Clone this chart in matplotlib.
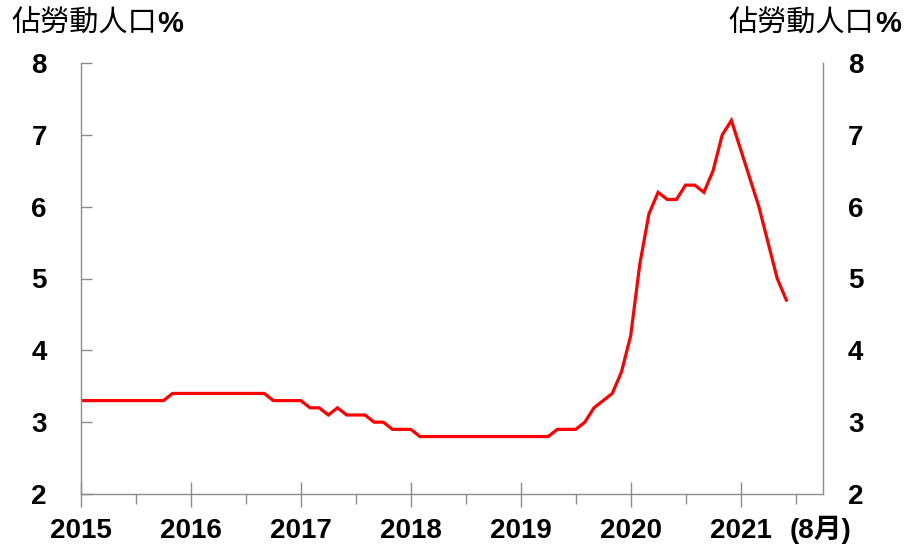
import matplotlib
matplotlib.use("Agg")
import matplotlib.pyplot as plt
from matplotlib.ticker import FixedLocator
from matplotlib.transforms import blended_transform_factory

# ---- data ----
year_labels = ["2015", "2016", "2017", "2018", "2019", "2020", "2021"]
end_label = "(8月)"
title_text = "佔勞動人口"
title_pct = "%"
y_ticks = [2, 3, 4, 5, 6, 7, 8]
# monthly unemployment rate, Jan 2015 onward (3-month moving average)
rate = [3.3, 3.3, 3.3, 3.3, 3.3, 3.3, 3.3, 3.3, 3.3, 3.3,
        3.4, 3.4, 3.4, 3.4, 3.4, 3.4, 3.4, 3.4, 3.4, 3.4, 3.4,
        3.3, 3.3, 3.3, 3.3,
        3.2, 3.2, 3.1, 3.2, 3.1, 3.1, 3.1,
        3.0, 3.0, 2.9, 2.9, 2.9,
        2.8, 2.8, 2.8, 2.8, 2.8, 2.8, 2.8, 2.8, 2.8, 2.8, 2.8, 2.8, 2.8, 2.8, 2.8,
        2.9, 2.9, 2.9, 3.0, 3.2, 3.3, 3.4, 3.7,
        4.2, 5.2, 5.9, 6.2, 6.1, 6.1, 6.3, 6.3, 6.2, 6.5, 7.0, 7.2,
        6.8, 6.4, 6.0, 5.5, 5.0, 4.7]
months = list(range(len(rate)))

W, H = 908, 549
fig = plt.figure(figsize=(W / 100, H / 100), dpi=100)
rect = [81 / W, 1 - 494 / H, (823 - 81) / W, (494 - 63) / H]
ax = fig.add_axes(rect)

ax.plot(months, rate, color="#ff0000", lw=2.3, solid_joinstyle="miter")

ax.set_xlim(0, 81)
ax.set_ylim(2, 8)

spine_col = "#8c8c8c"
for s in ["left", "right", "bottom"]:
    ax.spines[s].set_color(spine_col)
    ax.spines[s].set_linewidth(1.0)
ax.spines["top"].set_visible(False)

tick_font = dict(family="Liberation Sans", weight="bold", size=20)

ax.set_yticks(y_ticks)
ax.set_yticklabels([str(v) for v in y_ticks], **tick_font)
ax.tick_params(axis="y", which="both", direction="in", length=8, width=1,
               color=spine_col, left=True, right=True, labelleft=True,
               labelright=False, pad=24.5)

# right-hand labels on a twin axis with its own padding
ax2 = ax.twinx()
ax2.set_ylim(2, 8)
ax2.set_yticks(y_ticks)
ax2.set_yticklabels([str(v) for v in y_ticks], **tick_font)
ax2.tick_params(axis="y", direction="in", length=0, pad=18)
for s in ax2.spines.values():
    s.set_visible(False)

major_x = [12 * i for i in range(len(year_labels))]
ax.xaxis.set_major_locator(FixedLocator(major_x))
ax.xaxis.set_minor_locator(FixedLocator([m + 6 for m in major_x]))
ax.set_xticklabels(year_labels, **tick_font)
ax.tick_params(axis="x", which="major", direction="inout", length=18, width=1,
               color=spine_col, pad=8.5)
ax.tick_params(axis="x", which="minor", direction="out", length=7, width=1,
               color=spine_col)

tr = blended_transform_factory(ax.transData, ax.transAxes)
ax.text(80.7, -(538 - 494) / (494 - 63), end_label, transform=tr,
        ha="center", va="baseline",
        family=["Liberation Sans", "Noto Sans CJK TC"], weight="bold", size=20)

# titles
fig.canvas.draw()
renderer = fig.canvas.get_renderer()

def title_at(x_px, align_right=False):
    t1 = fig.text(0, 0, title_text, family="Noto Sans CJK TC", size=21,
                  va="baseline", ha="left")
    t2 = fig.text(0, 0, title_pct, family="Liberation Sans", weight="bold",
                  size=21, va="baseline", ha="left")
    w1 = t1.get_window_extent(renderer).width
    w2 = t2.get_window_extent(renderer).width
    total = w1 + w2 + 1
    x0 = x_px - total if align_right else x_px
    base = 1 - 32 / H
    t1.set_position((x0 / W, base))
    t2.set_position(((x0 + w1 + 1) / W, base))

title_at(11)
title_at(901, align_right=True)

fig.savefig("out.png", dpi=100, facecolor="white")
